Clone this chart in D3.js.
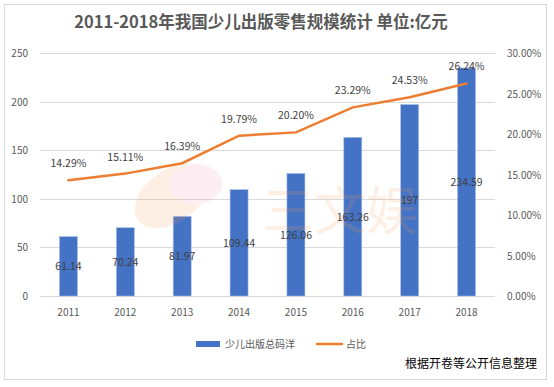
<!DOCTYPE html>
<html>
<head>
<meta charset="utf-8">
<script src="https://cdn.jsdelivr.net/npm/d3@7"></script>
<style>
  body { margin: 0; background: #fff; }
  svg text { font-family: "Microsoft YaHei", "Noto Sans CJK SC", "DejaVu Sans", sans-serif; }
</style>
</head>
<body>
<div id="chart"></div>
<script>
// data
var years = ['2011', '2012', '2013', '2014', '2015', '2016', '2017', '2018'];
var sales = [61.14, 70.24, 81.97, 109.44, 126.06, 163.26, 197, 234.59];
var share = [14.29, 15.11, 16.39, 19.79, 20.20, 23.29, 24.53, 26.24];
var leftTicks = [0, 50, 100, 150, 200, 250];
var rightTicks = [0, 5, 10, 15, 20, 25, 30];

var w = 554, h = 387;
var plotL = 40, plotR = 495, plotT = 53, plotB = 296;

var svg = d3.select('#chart')
  .append('svg')
    .attr('width', w)
    .attr('height', h);

// chart frame
svg.append('rect')
  .attr('x', 4.5).attr('y', 4.5)
  .attr('width', 542).attr('height', 375)
  .attr('fill', '#fff')
  .attr('stroke', '#d9d9d9');

var x = d3.scaleBand().domain(years).range([plotL, plotR]);
var y = d3.scaleLinear().domain([0, 250]).range([plotB, plotT]);
var y2 = d3.scaleLinear().domain([0, 30]).range([plotB, plotT]);

// gridlines
svg.append('g').selectAll('line')
  .data(leftTicks)
  .join('line')
    .attr('x1', plotL).attr('x2', plotR)
    .attr('y1', d => Math.round(y(d)) + 0.5)
    .attr('y2', d => Math.round(y(d)) + 0.5)
    .attr('stroke', '#d9d9d9');

// left axis labels
svg.append('g').selectAll('text')
  .data(leftTicks)
  .join('text')
    .attr('x', 28)
    .attr('y', d => y(d) + 4)
    .attr('text-anchor', 'end')
    .attr('font-size', 10)
    .attr('fill', '#595959')
    .text(d => d);

// right axis labels
svg.append('g').selectAll('text')
  .data(rightTicks)
  .join('text')
    .attr('x', 507)
    .attr('y', d => y2(d) + 4)
    .attr('font-size', 10)
    .attr('fill', '#595959')
    .text(d => d.toFixed(2) + '%');

// x labels
svg.append('g').selectAll('text')
  .data(years)
  .join('text')
    .attr('x', d => x(d) + x.bandwidth() / 2)
    .attr('y', 316)
    .attr('text-anchor', 'middle')
    .attr('font-size', 10)
    .attr('fill', '#595959')
    .text(d => d);

// bars
var bw = 18;
svg.append('g').selectAll('rect')
  .data(sales)
  .join('rect')
    .attr('x', (d, i) => x(years[i]) + x.bandwidth() / 2 - bw / 2)
    .attr('y', d => y(d))
    .attr('width', bw)
    .attr('height', d => plotB - y(d))
    .attr('fill', '#4472c4')
    .attr('stroke', '#a9bde6')
    .attr('stroke-width', 0.6);

// watermark (faint, sits over the bars like in the source)
var wm = svg.append('g').attr('opacity', 0.16);
wm.append('ellipse').attr('cx', 172).attr('cy', 196).attr('rx', 42).attr('ry', 26)
  .attr('transform', 'rotate(-35 172 196)').attr('fill', '#f5a25d');
wm.append('ellipse').attr('cx', 196).attr('cy', 184).attr('rx', 26).attr('ry', 20)
  .attr('fill', '#f49ab6');
wm.append('text')
  .attr('x', 262).attr('y', 230)
  .attr('font-size', 52)
  .attr('fill', '#f5a25d')
  .text('三文娱');

// bar labels
svg.append('g').selectAll('text')
  .data(sales)
  .join('text')
    .attr('x', (d, i) => x(years[i]) + x.bandwidth() / 2)
    .attr('y', d => (y(d) + plotB) / 2 + 4)
    .attr('text-anchor', 'middle')
    .attr('font-size', 10.5)
    .attr('fill', '#404040')
    .text(d => d);

// share line
var line = d3.line()
  .x((d, i) => x(years[i]) + x.bandwidth() / 2)
  .y(d => y2(d));

svg.append('path')
  .datum(share)
  .attr('d', line)
  .attr('fill', 'none')
  .attr('stroke', '#ed7d31')
  .attr('stroke-width', 2.5)
  .attr('stroke-linecap', 'round');

svg.append('g').selectAll('text')
  .data(share)
  .join('text')
    .attr('x', (d, i) => x(years[i]) + x.bandwidth() / 2)
    .attr('y', d => y2(d) - 13)
    .attr('text-anchor', 'middle')
    .attr('font-size', 10.5)
    .attr('fill', '#404040')
    .text(d => d.toFixed(2) + '%');

// title
svg.append('text')
  .attr('x', 261).attr('y', 28)
  .attr('text-anchor', 'middle')
  .attr('font-size', 16.5)
  .attr('font-weight', 'bold')
  .attr('fill', '#595959')
  .text('2011-2018年我国少儿出版零售规模统计 单位:亿元');

// legend
svg.append('rect')
  .attr('x', 196).attr('y', 341).attr('width', 24).attr('height', 6)
  .attr('fill', '#4472c4');
svg.append('text')
  .attr('x', 225).attr('y', 348)
  .attr('font-size', 10)
  .attr('fill', '#595959')
  .text('少儿出版总码洋');
svg.append('line')
  .attr('x1', 317).attr('x2', 342).attr('y1', 344).attr('y2', 344)
  .attr('stroke', '#ed7d31').attr('stroke-width', 2.5).attr('stroke-linecap', 'round');
svg.append('text')
  .attr('x', 346).attr('y', 348)
  .attr('font-size', 10)
  .attr('fill', '#595959')
  .text('占比');

// source note
svg.append('text')
  .attr('x', 537).attr('y', 368)
  .attr('text-anchor', 'end')
  .attr('font-size', 12)
  .attr('fill', '#000')
  .text('根据开卷等公开信息整理');
</script>
</body>
</html>
